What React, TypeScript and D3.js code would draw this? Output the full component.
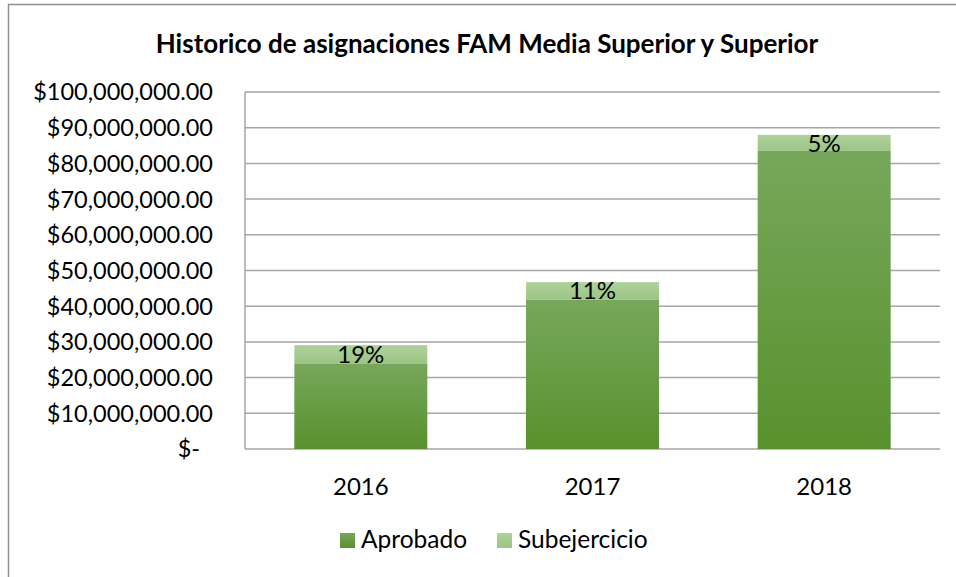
import * as d3 from 'd3';

const W = 956;
const H = 577;
const MARGIN = { top: 92, right: 16, bottom: 128, left: 245 };
const FONT = 'Lato, "Open Sans", sans-serif';

const YEARS = ['2016', '2017', '2018'];
const APROBADO = [24000000, 41900000, 83500000];
const SUBEJERCICIO = [5100000, 4850000, 4500000];
const PCT_LABELS = ['19%', '11%', '5%'];
const Y_TICKS = [0, 10e6, 20e6, 30e6, 40e6, 50e6, 60e6, 70e6, 80e6, 90e6, 100e6];

const fmtMoney = (v: number) => (v === 0 ? '$-' : '$' + d3.format(',.2f')(v));

export default function App() {
  const innerR = W - MARGIN.right;
  const innerB = H - MARGIN.bottom;
  const x = d3.scaleBand<string>()
    .domain(YEARS)
    .range([MARGIN.left, 940])
    .paddingInner(0.426)
    .paddingOuter(0.213);
  const y = d3.scaleLinear().domain([0, 100e6]).range([449, MARGIN.top]);

  const rows = YEARS.map((yr, i) => ({
    year: yr,
    aprobado: APROBADO[i],
    sub: SUBEJERCICIO[i],
    label: PCT_LABELS[i],
  }));

  return (
    <div style={{ position: 'fixed', left: 0, top: 0, width: W, height: H, background: '#fff' }}>
      <svg width={W} height={H} style={{ display: 'block' }}>
        <defs>
          <linearGradient id="gAprob" x1="0" y1="0" x2="0" y2="1">
            <stop offset="0%" stopColor="#77a75b" />
            <stop offset="100%" stopColor="#58912d" />
          </linearGradient>
          <linearGradient id="gSub" x1="0" y1="0" x2="0" y2="1">
            <stop offset="0%" stopColor="#afd29c" />
            <stop offset="100%" stopColor="#9dc486" />
          </linearGradient>
        </defs>

        {/* chart frame, runs off the right and bottom edges */}
        <rect x={8.5} y={4.5} width={W + 20} height={H + 20} fill="#fff" stroke="#8f8f8f" strokeWidth={1.5} />

        <text x={487} y={53} textAnchor="middle" fontFamily={FONT} fontWeight="bold" fontSize={26} fill="#000">
          Historico de asignaciones FAM Media Superior y Superior
        </text>

        {/* grid */}
        {Y_TICKS.map(t => (
          <g key={t}>
            <line x1={MARGIN.left} x2={innerR} y1={y(t)} y2={y(t)} stroke="#a6a6a6" strokeWidth={1.5} />
            <text
              x={t === 0 ? 200 : 213}
              y={y(t)}
              dy="0.36em"
              textAnchor="end"
              fontFamily={FONT}
              fontSize={23.5}
              fill="#000"
            >
              {fmtMoney(t)}
            </text>
          </g>
        ))}
        <line x1={MARGIN.left} x2={MARGIN.left} y1={y(100e6)} y2={y(0)} stroke="#a6a6a6" strokeWidth={1.5} />

        {/* bars */}
        {rows.map(d => {
          const bx = x(d.year) ?? 0;
          const bw = x.bandwidth();
          const yA = y(d.aprobado);
          const yT = y(d.aprobado + d.sub);
          return (
            <g key={d.year}>
              <rect x={bx} y={yA} width={bw} height={y(0) - yA} fill="url(#gAprob)" />
              <rect x={bx} y={yT} width={bw} height={yA - yT} fill="url(#gSub)" />
              <text
                x={bx + bw / 2}
                y={(yA + yT) / 2}
                dy="0.36em"
                textAnchor="middle"
                fontFamily={FONT}
                fontSize={24}
                fill="#000"
              >
                {d.label}
              </text>
              <text
                x={bx + bw / 2}
                y={innerB + 46}
                textAnchor="middle"
                fontFamily={FONT}
                fontSize={24}
                fill="#000"
              >
                {d.year}
              </text>
            </g>
          );
        })}

        {/* legend */}
        <rect x={340} y={533} width={15} height={15} fill="url(#gAprob)" />
        <text x={361} y={548} fontFamily={FONT} fontSize={24.5} fill="#000">Aprobado</text>
        <rect x={497} y={533} width={15} height={15} fill="url(#gSub)" />
        <text x={518} y={548} fontFamily={FONT} fontSize={24.5} fill="#000">Subejercicio</text>
      </svg>
    </div>
  );
}
